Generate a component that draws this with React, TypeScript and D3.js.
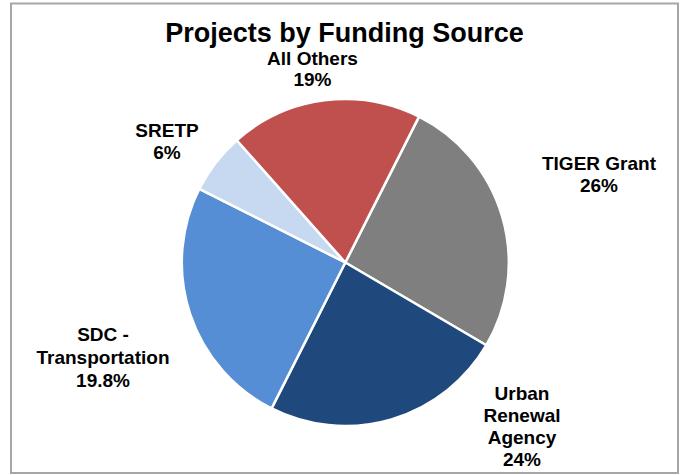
import React from "react";
import * as d3 from "d3";

const categories = ["TIGER Grant", "Urban Renewal Agency", "SDC - Transportation", "SRETP", "All Others"];
const values = [26, 24, 25, 6, 19];
const percentLabels = ["26%", "24%", "19.8%", "6%", "19%"];
const labelLines = [
  ["TIGER Grant"],
  ["Urban", "Renewal", "Agency"],
  ["SDC -", "Transportation"],
  ["SRETP"],
  ["All Others"],
];
const colors = ["#7F7F7F", "#1F497D", "#558ED5", "#C6D9F1", "#C0504D"];
const title = "Projects by Funding Source";

// label layout (center x, first baseline, line gap)
const labelLayout = [
  { x: 599, y: 170, gap: 22 },
  { x: 522, y: 400, gap: 22 },
  { x: 103, y: 341, gap: 23 },
  { x: 167, y: 137, gap: 22 },
  { x: 312.5, y: 65, gap: 21 },
];

const W = 681;
const H = 475;
const cx = 345.3;
const cy = 262.5;
const R = 163.5;
const startDeg = 26.8;

export default function App() {
  const pie = d3
    .pie<number>()
    .sort(null)
    .value((d) => d)
    .startAngle((startDeg * Math.PI) / 180)
    .endAngle((startDeg * Math.PI) / 180 + 2 * Math.PI);
  const arcs = pie(values);
  const arc = d3.arc<d3.PieArcDatum<number>>().innerRadius(0).outerRadius(R);
  const font = "'Liberation Sans', Arial, sans-serif";

  return (
    <svg width={W} height={H} style={{ position: "absolute", left: 0, top: 0, background: "#fff" }}>
      <rect x={11} y={3.5} width={667} height={469.5} fill="#fff" stroke="#A6A6A6" strokeWidth={2} />
      <text x={344.5} y={42.3} textAnchor="middle" fontFamily={font} fontWeight="bold" fontSize={27} fill="#000">
        {title}
      </text>
      <g transform={`translate(${cx},${cy})`}>
        {arcs.map((a, i) => (
          <path key={categories[i]} d={arc(a) || ""} fill={colors[i]} stroke="#fff" strokeWidth={2.5} strokeLinejoin="round" />
        ))}
      </g>
      {labelLines.map((lines, i) => {
        const lay = labelLayout[i];
        const all = [...lines, percentLabels[i]];
        return (
          <text key={i} textAnchor="middle" fontFamily={font} fontWeight="bold" fontSize={19} fill="#000">
            {all.map((t, j) => (
              <tspan key={j} x={lay.x} y={lay.y + j * lay.gap}>
                {t}
              </tspan>
            ))}
          </text>
        );
      })}
    </svg>
  );
}
